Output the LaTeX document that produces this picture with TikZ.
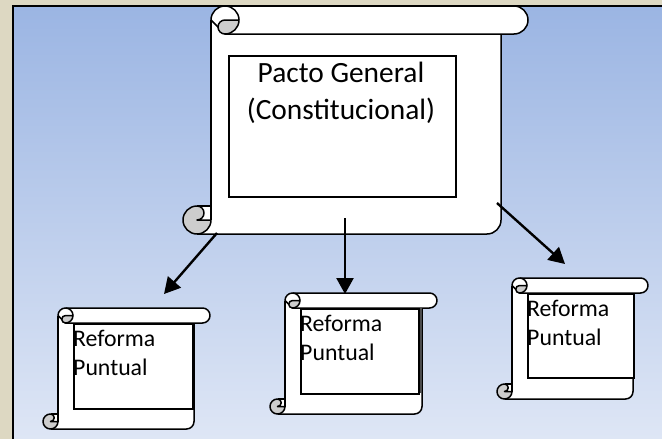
\documentclass[tikz,border=0pt]{standalone}
\usepackage{fontspec}
\setmainfont{Carlito}
\usetikzlibrary{arrows.meta}
\definecolor{beige}{HTML}{DDD8C2}
\definecolor{skytop}{HTML}{9BB5E3}
\definecolor{skybot}{HTML}{DEE6F5}
\definecolor{curl}{HTML}{CDCDCD}
\tikzset{
  scrollline/.style={line width=1.5pt,line join=round,black},
  innerbox/.style={draw=black,line width=1.5pt,fill=white,inner sep=0pt,anchor=north west},
  bigtext/.style={font=\fontsize{29.4}{37}\selectfont,align=center,inner sep=0pt,anchor=north},
  smalltext/.style={font=\fontsize{23.8}{29}\selectfont,align=left,inner sep=0pt,anchor=north west},
  linkarrow/.style={line width=2.4pt,black,-{Triangle[length=16pt,width=17pt]}}
}
% left, right, roll right, top, roll bottom, bottom, radius
\newcommand{\scrollshape}[7]{%
  \fill[white] ({#1},{#4+#7}) -- ({#1},{#6-2*#7}) -- ({#1-#7},{#6-2*#7}) -- ({#1-#7},{#6})
     -- ({#2-#7},{#6}) arc[start angle=90,end angle=0,radius=#7] -- ({#2},{#5}) -- ({#1+#7},{#5}) -- cycle;
  \draw[scrollline] ({#1},{#4+#7}) -- ({#1},{#6-#7});
  \draw[scrollline] ({#1-#7},{#6-2*#7}) -- ({#1},{#6-2*#7});
  \draw[scrollline] ({#1-#7},{#6}) -- ({#2-#7},{#6}) arc[start angle=90,end angle=0,radius=#7] -- ({#2},{#5});
  \draw[scrollline,fill=curl] ({#1-#7},{#6-2*#7}) arc[start angle=270,end angle=0,radius=#7]
     -- ({#1-#7},{#6-#7}) arc[start angle=90,end angle=-90,radius=#7/2];
  \draw[scrollline,fill=white] ({#1},{#4+#7}) arc[start angle=180,end angle=270,radius=#7]
     -- ({#3-#7},{#4}) arc[start angle=270,end angle=450,radius=#7] -- ({#1+#7},{#5}) -- cycle;
  \draw[scrollline] ({#1+#7},{#4}) arc[start angle=-90,end angle=0,radius=#7];
  \draw[scrollline,fill=curl] ({#1+#7},{#4+#7}) -- ({#1+2*#7},{#4+#7}) arc[start angle=0,end angle=90,radius=#7]
     arc[start angle=90,end angle=270,radius=#7/2];
}
\begin{document}
\begin{tikzpicture}[x=1pt,y=1pt,yscale=-1]
\useasboundingbox (0,0) rectangle (662,439);
\fill[beige] (0,0) rectangle (662,439);
\shade[top color=skytop,bottom color=skybot] (13,6) rectangle (662,439);
\draw[black,line width=2pt] (13,439) -- (13,6) -- (662,6);

\scrollshape{211}{501}{528}{6}{34}{234}{14}
\node[innerbox,minimum width=227pt,minimum height=141pt] (mainbox) at (228,55) {};
\node[bigtext] (maintext) at (341,62) {Pacto General\\(Constitucional)};

\scrollshape{58}{194}{210}{308}{323}{429}{7.5}
\node[innerbox,minimum width=119pt,minimum height=85pt] (boxa) at (73,323) {};
\node[smalltext] (texta) at (73,330) {Reforma\\Puntual};

\scrollshape{285}{422}{437}{293}{308}{414}{7.5}
\fill[black!70] (418,308) rectangle (422,393);
\node[innerbox,minimum width=118pt,minimum height=85pt] (boxb) at (300,308) {};
\node[smalltext] (textb) at (300,315) {Reforma\\Puntual};

\scrollshape{512}{633}{648}{278}{293}{399}{7.5}
\node[innerbox,minimum width=106pt,minimum height=84pt] (boxc) at (527,293) {};
\node[smalltext] (textc) at (527,300) {Reforma\\Puntual};

\coordinate (froma) at (217,233);
\coordinate (fromb) at (345,218);
\coordinate (fromc) at (497,203);
\coordinate (toa) at (164,294);
\coordinate (tob) at (345,294);
\coordinate (toc) at (565,264);
\draw[linkarrow] (froma) -- (toa);
\draw[linkarrow] (fromb) -- (tob);
\draw[linkarrow] (fromc) -- (toc);
\end{tikzpicture}
\end{document}
